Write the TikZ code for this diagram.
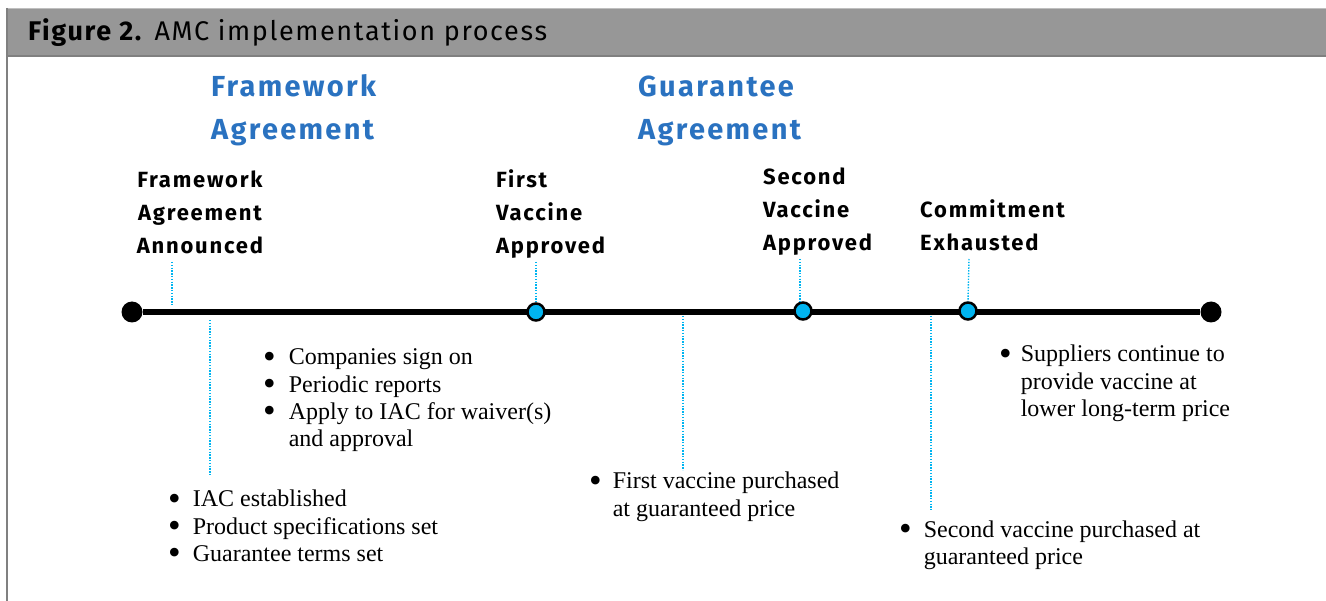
\documentclass[tikz,border=0pt]{standalone}
\usepackage{fontspec}
\setmainfont{Liberation Serif}
\newfontfamily\titlefont[LetterSpace=6]{Fira Sans}
\newfontfamily\labelfont[LetterSpace=8]{Fira Sans}
\definecolor{barGray}{RGB}{151,151,151}
\definecolor{barEdge}{RGB}{128,128,128}
\definecolor{headBlue}{RGB}{42,114,192}
\definecolor{dotCyan}{RGB}{0,180,240}
\newcommand{\puce}{\raisebox{-3.2pt}[0pt][0pt]{\scalebox{1.5}{\textbullet}}}
\begin{document}
\begin{tikzpicture}[x=1pt, y=-1pt]
	\tikzset{titre/.style={anchor=base west, inner sep=0, font=\titlefont\fontsize{27}{30}\selectfont},
		entete/.style={anchor=base west, inner sep=0, text=headBlue, font=\labelfont\bfseries\fontsize{29}{42.5}\selectfont},
		etape/.style={anchor=base west, inner sep=0, font=\labelfont\bfseries\fontsize{22}{33}\selectfont},
		puces/.style={anchor=base west, inner sep=0, font=\fontsize{24}{27.3}\selectfont},
		bout/.style={circle, fill=black, inner sep=0, minimum size=21pt},
		jalon/.style={circle, draw=black, line width=2.5pt, fill=dotCyan, inner sep=0, minimum size=17pt},
		repere/.style={dotCyan, line width=1.4pt, dash pattern=on 1.4pt off 1.4pt}}
	\useasboundingbox (0,0) rectangle (1326,601);

	% cadre et bandeau
	\fill[barGray] (6,8) rectangle (1326,57);
	\draw[gray!50, line width=1pt] (6,8.5) -- (1326,8.5);
	\draw[barEdge, line width=2pt] (6,56) -- (1326,56);
	\draw[barEdge, line width=2pt] (7,8) -- (7,601);
	\node[titre] (titre) at (28,41) {\textbf{Figure 2.} AMC implementation process};

	% accords
	\node[entete] (fa) at (211,97) {\begin{tabular}[t]{@{}l@{}}Framework\\Agreement\end{tabular}};
	\node[entete] (ga) at (638,97) {\begin{tabular}[t]{@{}l@{}}Guarantee\\Agreement\end{tabular}};

	% etapes
	\node[etape, anchor=base] (annonce) at (200,188) {\begin{tabular}[t]{@{}c@{}}Framework\\Agreement\\Announced\end{tabular}};
	\node[etape] (premier) at (496,188) {\begin{tabular}[t]{@{}l@{}}First\\Vaccine\\Approved\end{tabular}};
	\node[etape] (second) at (763,185) {\begin{tabular}[t]{@{}l@{}}Second\\Vaccine\\Approved\end{tabular}};
	\node[etape] (fin) at (920,218) {\begin{tabular}[t]{@{}l@{}}Commitment\\Exhausted\end{tabular}};

	% ligne du temps
	\node[bout] (debut) at (132,312) {};
	\node[bout] (arrivee) at (1211,312) {};
	\draw[line width=6pt] (debut) -- (arrivee);
	\node[jalon] (j1) at (536,312) {};
	\node[jalon] (j2) at (803,311) {};
	\node[jalon] (j3) at (968,311) {};

	% listes
	\node[puces] (signe) at (263,365) {\begin{tabular}[t]{@{}l@{\hspace{13pt}}l@{}}\puce & Companies sign on\\ \puce & Periodic reports\\ \puce & Apply to IAC for waiver(s)\\ & and approval\end{tabular}};
	\node[puces] (iac) at (168,507) {\begin{tabular}[t]{@{}l@{\hspace{12pt}}l@{}}\puce & IAC established\\ \puce & Product specifications set\\ \puce & Guarantee terms set\end{tabular}};
	\node[puces] (achat1) at (589,489) {\begin{tabular}[t]{@{}l@{\hspace{11pt}}l@{}}\puce & First vaccine purchased\\ & at guaranteed price\end{tabular}};
	\node[puces] (achat2) at (899,537) {\begin{tabular}[t]{@{}l@{\hspace{12pt}}l@{}}\puce & Second vaccine purchased at\\ & guaranteed price\end{tabular}};
	\node[puces] (suite) at (999,362) {\begin{tabular}[t]{@{}l@{\hspace{9pt}}l@{}}\puce & Suppliers continue to\\ & provide vaccine at\\ & lower long-term price\end{tabular}};

	% reperes
	\coordinate (a1) at (172,262);
	\coordinate (a2) at (172,305);
	\coordinate (b1) at (210,320);
	\coordinate (b2) at (210,476);
	\coordinate (c1) at (683,316);
	\coordinate (c2) at (683,470);
	\coordinate (d1) at (931,316);
	\coordinate (d2) at (931,510);
	\draw[repere] (a1) -- (a2);
	\draw[repere] (b1) -- (b2);
	\draw[repere] (c1) -- (c2);
	\draw[repere] (d1) -- (d2);
	\draw[repere] (536,262) -- (j1.north);
	\draw[repere] (800,259) -- (800,302);
	\draw[repere] (969,259) -- (j3.north);
\end{tikzpicture}
\end{document}
